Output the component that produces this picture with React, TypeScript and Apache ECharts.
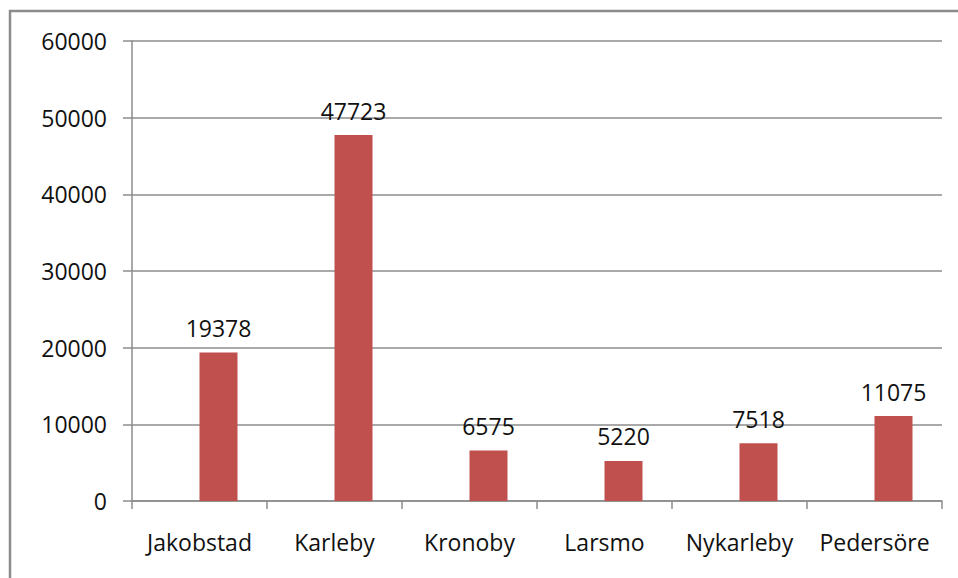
import React, { useEffect, useRef } from "react";
import * as echarts from "echarts";

const categories = ["Jakobstad", "Karleby", "Kronoby", "Larsmo", "Nykarleby", "Pedersöre"];
const values = [19378, 47723, 6575, 5220, 7518, 11075];
const emptySeries: (number | null)[] = [null, null, null, null, null, null];

const FONT = "Open Sans";

export default function App() {
  const ref = useRef<HTMLDivElement>(null);
  useEffect(() => {
    if (!ref.current) return;
    const chart = echarts.init(ref.current, null, { renderer: "svg" });
    chart.setOption({
      animation: false,
      backgroundColor: "#ffffff",
      graphic: [
        {
          type: "rect",
          shape: { x: 10, y: 11, width: 1100, height: 1000 },
          style: { fill: "none", stroke: "#8c8c8c", lineWidth: 2.5 },
          z: 100,
        },
      ],
      grid: { left: 132, top: 41, right: 16, bottom: 77, containLabel: false },
      xAxis: {
        type: "category",
        data: categories,
        axisLine: { show: true, lineStyle: { color: "#8c8c8c", width: 1.5 } },
        axisTick: { show: true, inside: false, length: 8, alignWithLabel: false, lineStyle: { color: "#8c8c8c", width: 1.5 } },
        axisLabel: { color: "#111111", fontFamily: FONT, fontSize: 23, margin: 29, interval: 0 },
        splitLine: { show: false },
      },
      yAxis: {
        type: "value",
        min: 0,
        max: 60000,
        interval: 10000,
        axisLine: { show: true, lineStyle: { color: "#8c8c8c", width: 1.5 } },
        axisTick: { show: true, length: 9, lineStyle: { color: "#8c8c8c", width: 1.5 } },
        axisLabel: {
          color: "#111111",
          fontFamily: FONT,
          fontSize: 23,
          margin: 25,
          formatter: (v: number) => String(v),
        },
        splitLine: { show: true, lineStyle: { color: "#8c8c8c", width: 1.5 } },
      },
      series: [
        {
          type: "bar",
          data: emptySeries,
          barWidth: 38,
          barGap: "0%",
        },
        {
          type: "bar",
          data: values,
          barWidth: 38,
          barGap: "0%",
          itemStyle: { color: "#C0504D" },
          label: {
            show: true,
            position: "top",
            distance: 13,
            color: "#111111",
            fontFamily: FONT,
            fontSize: 23,
          },
        },
      ],
    });
    return () => chart.dispose();
  }, []);
  return (
    <div
      ref={ref}
      style={{ position: "fixed", left: 0, top: 0, width: 958, height: 578 }}
    />
  );
}
